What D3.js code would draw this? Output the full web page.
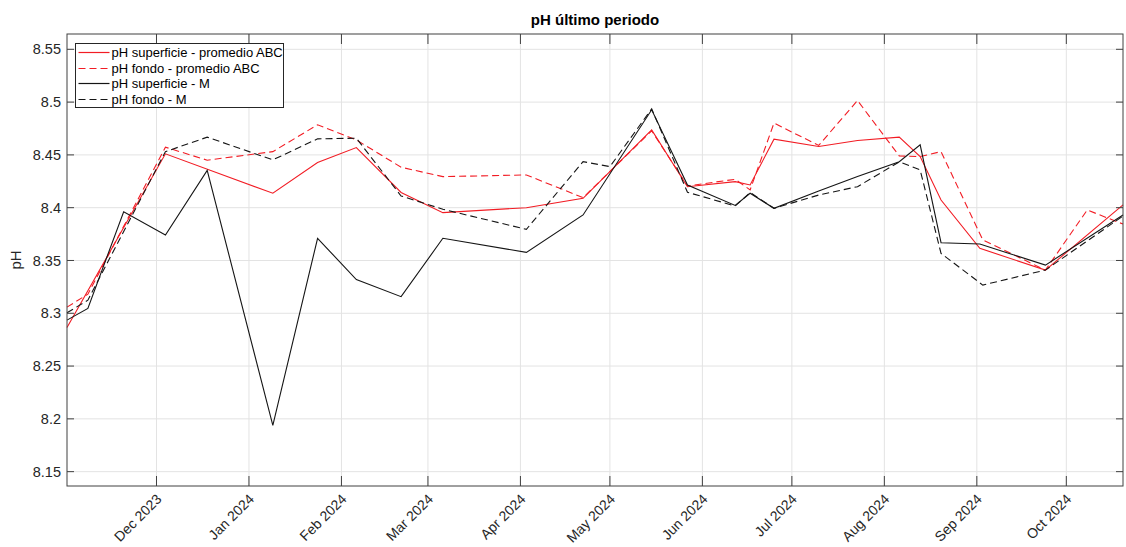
<!DOCTYPE html>
<html lang="es">
  <head>
    <meta charset="UTF-8" />
    <title>pH último periodo</title>
    <script src="https://d3js.org/d3.v7.min.js"></script>
    <style>
      body { margin: 0; background: #fff; }
      text { font-family: "Liberation Sans", Arial, sans-serif; fill: #262626; }
      .grid line { stroke: #e3e3e3; stroke-width: 1px; }
      .box { fill: none; stroke: #404040; stroke-width: 1px; }
      .tick-mark { stroke: #404040; stroke-width: 1px; }
      .series { fill: none; stroke-width: 1.1px; }
    </style>
  </head>
  <body>
    <svg id="chart" width="1126" height="547"></svg>
    <script>
      // fechas y valores
      const datesSupABC = ["2023-11-01", "2023-12-04", "2024-01-09", "2024-01-24", "2024-02-06", "2024-02-21",
        "2024-03-06", "2024-04-03", "2024-04-22", "2024-05-15", "2024-05-27", "2024-06-12", "2024-06-17",
        "2024-06-25", "2024-07-10", "2024-07-23", "2024-08-06", "2024-08-13", "2024-08-20", "2024-09-02",
        "2024-09-24", "2024-10-20"];
      const phSupABC = [8.2865, 8.451, 8.4137, 8.4427, 8.4569, 8.4144,
        8.3953, 8.4, 8.4089, 8.4737, 8.4199, 8.4247, 8.4215,
        8.4649, 8.4579, 8.4636, 8.4668, 8.4484, 8.4073, 8.3615,
        8.3409, 8.4026];

      const datesFonABC = ["2023-11-01", "2023-11-08", "2023-12-04", "2023-12-18", "2024-01-09", "2024-01-24",
        "2024-02-06", "2024-02-21", "2024-03-06", "2024-04-03", "2024-04-22", "2024-05-15", "2024-05-27",
        "2024-06-12", "2024-06-17", "2024-06-25", "2024-07-10", "2024-07-23", "2024-08-06", "2024-08-13",
        "2024-08-20", "2024-09-03", "2024-09-24", "2024-10-08", "2024-10-20"];
      const phFonABC = [8.3058, 8.3181, 8.4573, 8.445, 8.4531, 8.4785,
        8.4642, 8.4383, 8.4294, 8.431, 8.4095, 8.4728, 8.4206,
        8.4269, 8.4168, 8.4801, 8.459, 8.5015, 8.449, 8.4484,
        8.4531, 8.3694, 8.3409, 8.3978, 8.3845];

      const datesSupM = ["2023-11-01", "2023-11-08", "2023-11-20", "2023-12-04", "2023-12-18", "2024-01-09",
        "2024-01-24", "2024-02-06", "2024-02-21", "2024-03-06", "2024-04-03", "2024-04-22", "2024-05-15",
        "2024-05-27", "2024-06-12", "2024-06-17", "2024-06-25", "2024-07-10", "2024-07-23", "2024-08-06",
        "2024-08-13", "2024-08-20", "2024-09-02", "2024-09-24", "2024-10-20"];
      const phSupM = [8.2935, 8.3046, 8.3962, 8.3741, 8.4353, 8.1938,
        8.371, 8.3319, 8.3157, 8.371, 8.3577, 8.3931, 8.4927,
        8.4215, 8.4021, 8.4137, 8.3994, 8.4158, 8.4296, 8.4436,
        8.4595, 8.3668, 8.3656, 8.3456, 8.3931];

      const datesFonM = ["2023-11-01", "2023-11-08", "2023-12-04", "2023-12-18", "2024-01-09", "2024-01-24",
        "2024-02-06", "2024-02-21", "2024-03-06", "2024-04-03", "2024-04-22", "2024-05-01", "2024-05-15",
        "2024-05-27", "2024-06-12", "2024-06-17", "2024-06-25", "2024-07-10", "2024-07-23", "2024-08-06",
        "2024-08-13", "2024-08-20", "2024-09-03", "2024-09-24", "2024-10-20"];
      const phFonM = [8.3004, 8.3124, 8.4531, 8.4668, 8.4453, 8.4652,
        8.4658, 8.4111, 8.3985, 8.3795, 8.4436, 8.4389, 8.4936,
        8.4146, 8.4016, 8.4144, 8.3994, 8.412, 8.4199, 8.4434,
        8.4358, 8.3567, 8.3267, 8.3409, 8.3921];

      const seriesNames = ["pH superficie - promedio ABC", "pH fondo - promedio ABC", "pH superficie - M", "pH fondo - M"];
      const yTicks = [8.15, 8.2, 8.25, 8.3, 8.35, 8.4, 8.45, 8.5, 8.55];
      const xTicks = ["2023-12-01", "2024-01-01", "2024-02-01", "2024-03-01", "2024-04-01", "2024-05-01",
        "2024-06-01", "2024-07-01", "2024-08-01", "2024-09-01", "2024-10-01"];
      const yDomain = [8.1364, 8.5645];

      const parse = d3.timeParse("%Y-%m-%d");
      const series = [
        { name: seriesNames[0], dates: datesSupABC, values: phSupABC, color: "#f21c24", dash: null },
        { name: seriesNames[1], dates: datesFonABC, values: phFonABC, color: "#f21c24", dash: "7,4" },
        { name: seriesNames[2], dates: datesSupM, values: phSupM, color: "#151515", dash: null },
        { name: seriesNames[3], dates: datesFonM, values: phFonM, color: "#151515", dash: "7,4" }
      ];

      const svg = d3.select("#chart");
      const margin = { top: 34, right: 3, bottom: 61, left: 67 };
      const width = +svg.attr("width") - margin.left - margin.right;
      const height = +svg.attr("height") - margin.top - margin.bottom;
      const g = svg.append("g").attr("transform", `translate(${margin.left},${margin.top})`);

      const allDates = series.flatMap(s => s.dates.map(parse));
      const x = d3.scaleTime().domain(d3.extent(allDates)).range([0, width]);
      const y = d3.scaleLinear().domain(yDomain).range([height, 0]);

      const xt = xTicks.map(parse);

      // grid
      g.append("g").attr("class", "grid")
        .selectAll("line.v").data(xt).join("line")
        .attr("x1", d => x(d)).attr("x2", d => x(d)).attr("y1", 0).attr("y2", height);
      g.append("g").attr("class", "grid")
        .selectAll("line.h").data(yTicks).join("line")
        .attr("x1", 0).attr("x2", width).attr("y1", d => y(d)).attr("y2", d => y(d));

      // lines
      const line = d3.line().x(d => x(d[0])).y(d => y(d[1]));
      series.forEach(s => {
        const pts = s.dates.map((d, i) => [parse(d), s.values[i]]);
        g.append("path")
          .attr("class", "series")
          .attr("d", line(pts))
          .attr("stroke", s.color)
          .attr("stroke-dasharray", s.dash);
      });

      // box and ticks (inside)
      const tl = 10;
      g.append("rect").attr("class", "box").attr("x", 0).attr("y", 0).attr("width", width).attr("height", height);
      xt.forEach(d => {
        g.append("line").attr("class", "tick-mark").attr("x1", x(d)).attr("x2", x(d)).attr("y1", height).attr("y2", height - tl);
        g.append("line").attr("class", "tick-mark").attr("x1", x(d)).attr("x2", x(d)).attr("y1", 0).attr("y2", tl);
      });
      yTicks.forEach(d => {
        g.append("line").attr("class", "tick-mark").attr("x1", 0).attr("x2", tl * 0.7).attr("y1", y(d)).attr("y2", y(d));
        g.append("line").attr("class", "tick-mark").attr("x1", width).attr("x2", width - tl * 0.7).attr("y1", y(d)).attr("y2", y(d));
      });

      // tick labels
      const fmtY = d3.format("~g");
      g.selectAll("text.ylab").data(yTicks).join("text")
        .attr("class", "ylab")
        .attr("x", -6).attr("y", d => y(d)).attr("dy", "0.35em")
        .attr("text-anchor", "end").attr("font-size", 14.5)
        .text(d => fmtY(d));

      const fmtX = d3.timeFormat("%b %Y");
      g.selectAll("text.xlab").data(xt).join("text")
        .attr("class", "xlab")
        .attr("text-anchor", "end").attr("font-size", 14)
        .attr("transform", d => `translate(${x(d) + 6},${height + 14}) rotate(-45)`)
        .text(d => fmtX(d));

      // title and axis label
      svg.append("text")
        .attr("x", margin.left + width / 2).attr("y", 25)
        .attr("text-anchor", "middle").attr("font-size", 15).attr("font-weight", "bold")
        .style("fill", "#000")
        .text("pH último periodo");
      svg.append("text")
        .attr("transform", `translate(21,${margin.top + height / 2}) rotate(-90)`)
        .attr("text-anchor", "middle").attr("font-size", 15)
        .text("pH");

      // legend
      const leg = svg.append("g").attr("transform", "translate(75.5,43.5)");
      leg.append("rect").attr("width", 208).attr("height", 64)
        .attr("fill", "#fff").attr("stroke", "#262626").attr("stroke-width", 1);
      series.forEach((s, i) => {
        const ly = Math.round(9 + i * 15.5);
        leg.append("line").attr("x1", 3).attr("x2", 34).attr("y1", ly).attr("y2", ly)
          .attr("stroke", s.color).attr("stroke-width", 1.2).attr("stroke-dasharray", s.dash);
        leg.append("text").attr("x", 36).attr("y", ly).attr("dy", "0.35em")
          .attr("font-size", 13).style("fill", "#000").text(s.name);
      });
    </script>
  </body>
</html>
